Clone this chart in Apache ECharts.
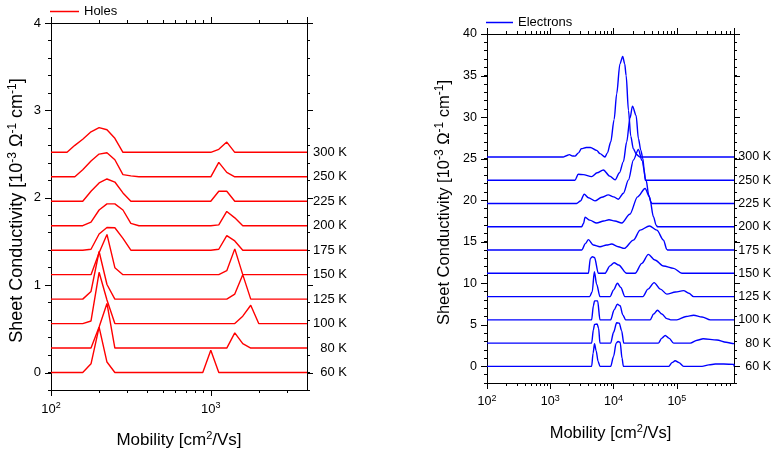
<!DOCTYPE html>
<html>
<head>
<meta charset="utf-8">
<script src="https://cdn.jsdelivr.net/npm/echarts@6/dist/echarts.min.js"></script>
<style>
  html, body { margin: 0; padding: 0; background: #fff; }
  #chart { width: 776px; height: 455px; }
</style>
</head>
<body>
<div id="chart"></div>
<script>
// ---------- data ----------
const temperatures = ['60 K', '80 K', '100 K', '125 K', '150 K', '175 K', '200 K', '225 K', '250 K', '300 K'];

// Holes: mobility spectra on a shared mobility grid (cm²/Vs), values in 10^-3 S
const holeMobility = [126, 141, 158, 178, 200, 224, 251, 282, 316, 355, 891, 1000, 1122, 1259, 1413, 1585, 1778, 1995];
const holeOffsets = [0, 0.28, 0.56, 0.84, 1.12, 1.40, 1.68, 1.96, 2.24, 2.52];
const holes60  = [0, 0, 0, 0.10, 0.52, 0.12, 0, 0, 0, 0,        0, 0.254, 0, 0, 0, 0, 0, 0];
const holes80  = [0, 0, 0, 0, 0.24, 0.51, 0, 0, 0, 0,           0, 0, 0, 0, 0.174, 0.05, 0, 0];
const holes100 = [0, 0, 0, 0.03, 0.587, 0.27, 0, 0, 0, 0,       0, 0, 0, 0, 0, 0.085, 0.21, 0];
const holes125 = [0, 0, 0, 0.088, 0.545, 0.167, 0, 0, 0, 0,     0, 0, 0, 0, 0.058, 0.28, 0, 0];
const holes150 = [0, 0, 0, 0, 0.25, 0.46, 0.08, 0, 0, 0,        0, 0, 0, 0.045, 0.295, 0, 0, 0];
const holes175 = [0, 0, 0, 0.011, 0.185, 0.26, 0.257, 0.136, 0, 0, 0, 0, 0.011, 0.167, 0.106, 0, 0, 0];
const holes200 = [0, 0, 0, 0.042, 0.18, 0.25, 0.25, 0.18, 0.027, 0, 0, 0, 0.01, 0.163, 0.09, 0, 0, 0];
const holes225 = [0, 0, 0, 0.115, 0.21, 0.255, 0.22, 0.095, 0, 0,   0, 0, 0.114, 0.114, 0, 0, 0, 0];
const holes250 = [0, 0, 0.08, 0.18, 0.26, 0.275, 0.195, 0.025, 0.01, 0, 0, 0, 0.165, 0.05, 0, 0, 0, 0];
const holes300 = [0, 0.08, 0.15, 0.235, 0.282, 0.258, 0.16, 0, 0, 0,   0, 0, 0.034, 0.117, 0, 0, 0, 0];
const holeCurves = [holes60, holes80, holes100, holes125, holes150, holes175, holes200, holes225, holes250, holes300];

// Electrons: [mobility (cm²/Vs), conductivity (10^-3 S)] per temperature
const elecOffsets = [0, 2.8, 5.6, 8.4, 11.2, 14.0, 16.8, 19.6, 22.4, 25.2];
const elec60 = [[4500, 0], [4750, 1.6], [5000, 2.72], [5300, 1.9], [5700, 0.6], [6100, 0],
  [9000, 0], [10000, 1.2], [11000, 2.8], [11800, 3.0], [12700, 2.9], [13600, 1.0], [14300, 0],
  [74000, 0], [84000, 0.45], [94000, 0.68], [108000, 0.45], [128000, 0],
  [250000, 0], [320000, 0.18], [405000, 0.28], [550000, 0.28], [800000, 0.24]];
const elec80 = [[4500, 0], [4800, 1.6], [5000, 2.25], [5500, 2.3], [5800, 1.8], [6100, 0],
  [9000, 0], [10000, 1.3], [11200, 2.45], [12300, 2.4], [13400, 1.5], [14500, 0],
  [51000, 0], [58000, 0.6], [65500, 0.92], [75000, 0.6], [89000, 0],
  [163000, 0], [210000, 0.35], [260000, 0.52], [430000, 0.38], [600000, 0.1], [800000, -0.06]];
const elec100 = [[4500, 0], [4800, 1.7], [5000, 2.28], [5600, 2.28], [6100, 0],
  [9000, 0], [10200, 1.2], [11500, 1.88], [12700, 1.7], [14000, 0.6], [15500, 0],
  [37800, 0], [43000, 0.7], [49400, 1.16], [58000, 0.7], [69500, 0.15], [80000, 0],
  [100000, 0], [140000, 0.4], [184000, 0.56], [250000, 0.35], [338000, 0]];
const elec125 = [[4200, 0], [4600, 0.6], [4970, 3.0], [5400, 1.5], [6100, 0],
  [8800, 0], [10000, 0.8], [11500, 1.6], [13000, 1.1], [15100, 0],
  [29000, 0], [35000, 0.9], [43700, 1.68], [55000, 0.9], [69500, 0.3], [95000, 0.55],
  [127600, 0.72], [155000, 0.4], [184000, 0]];
const elec150 = [[4000, 0], [4300, 1.8], [4650, 2.0], [5000, 1.9], [5750, 0],
  [7300, 0], [8800, 0.9], [10200, 1.28], [12000, 1.0], [16100, 0],
  [21900, 0], [28000, 1.2], [35500, 2.28], [45000, 1.6], [61500, 0.88], [88700, 0.6], [120000, 0]];
const elec175 = [[3130, 0], [3610, 0.8], [4000, 1.25], [4790, 0.6], [6100, 0.4], [7780, 0.6],
  [9300, 0.72], [11900, 0.4], [14700, 0.2], [20600, 1.2], [26300, 2.4], [36900, 2.9],
  [48300, 2.4], [61500, 1.2], [69500, 0.08], [72000, 0]];
const elec200 = [[3130, 0], [3350, 0.4], [3550, 1.15], [4200, 0.8], [5400, 0.45], [7000, 0.7],
  [8470, 0.84], [10500, 0.7], [13500, 0.45], [18000, 1.5], [24000, 3.6], [31500, 4.6],
  [37000, 3.6], [42700, 1.2], [47000, 0.2], [49400, 0]];
const elec225 = [[2600, 0], [3000, 0.3], [3440, 1.12], [4000, 0.7], [5080, 0.32], [6500, 0.75],
  [8260, 1.04], [10000, 0.8], [11900, 0.52], [14300, 1.24], [17200, 2.84], [20600, 5.24],
  [24700, 6.52], [28000, 5.2], [32700, 2.8], [36000, 1.0], [38800, 0.2], [40300, 0]];
const elec250 = [[2450, 0], [2770, 0.72], [3320, 0.68], [4500, 0.44], [5500, 0.9], [6900, 1.24],
  [8700, 0.5], [10600, 0.04], [12400, 0.9], [14300, 2.24], [16100, 4.6], [18200, 7.5],
  [19900, 8.92], [22700, 7.8], [24700, 5.0], [27000, 3.6], [29000, 2.6], [30500, 1.2], [31600, 0]];
const elec300 = [[1600, 0], [1800, 0.15], [2000, 0.28], [2250, 0.12], [2450, 0.1], [2800, 0.5],
  [3100, 1.0], [3700, 1.15], [4300, 1.15], [5400, 0.8], [6100, 0.4], [7300, 0], [8000, 0.5],
  [9010, 1.8], [10200, 4.5], [11200, 7.6], [12600, 11.2], [13950, 12.1], [15000, 11.2],
  [15800, 9.8], [17200, 5.6], [18700, 2.5], [20500, 1.0], [23000, 0.3], [26000, 0]];
const elecCurves = [elec60, elec80, elec100, elec125, elec150, elec175, elec200, elec225, elec250, elec300];

// axis ranges and ticks
const holeXRange = [100, 4000];
const holeYRange = [-0.2, 4];
const holeYStep = 0.2;
const holeYMajor = [0, 1, 2, 3, 4];
const holeXMinor = [200, 300, 400, 500, 600, 700, 800, 900, 2000, 3000];

const elecXRange = [100, 800000];
const elecYRange = [-2, 40];
const elecYStep = 1;
const elecYMajor = [0, 5, 10, 15, 20, 25, 30, 35, 40];
const elecXMinor = [];
[100, 1000, 10000, 100000].forEach(function (d) {
  for (let m = 2; m <= 9; m++) { if (m * d < elecXRange[1]) elecXMinor.push(m * d); }
});

// ---------- styling ----------
const FONT = '"Liberation Sans", Arial, sans-serif';
const yTitle = 'Sheet Conductivity [10{s|-3} \u03A9{s|-1} cm{s|-1}]';
const xTitle = 'Mobility [cm{s|2}/Vs]';

// per-panel text sizes; titlePad nudges the rotated y title along the axis
const holeFonts = { tick: 13, sup: 9, xTitle: 17, yTitle: 18, nameSup: 12, titlePad: [0, 8, 0, 0] };
const elecFonts = { tick: 12.5, sup: 9, xTitle: 16.5, yTitle: 16.5, nameSup: 12, titlePad: [0, 0, 0, 12] };

function supRich(f) {
  return {
    b: { fontSize: f.tick, fontFamily: FONT, color: '#000', lineHeight: 16 },
    s: { fontSize: f.sup, fontFamily: FONT, color: '#000', lineHeight: 10, verticalAlign: 'top' }
  };
}
function nameRich(size) {
  return { s: { fontSize: size, fontFamily: FONT, color: '#000', lineHeight: 12, verticalAlign: 'top' } };
}

function decadeLabel(v) {
  const e = Math.log10(v);
  if (Math.abs(e - Math.round(e)) > 1e-6) return '';
  return '{b|10}{s|' + Math.round(e) + '}';
}

function xAxes(grid, range, f) {
  const common = {
    type: 'log', logBase: 10, gridIndex: grid, min: range[0], max: range[1],
    axisLine: { show: true, onZero: false, lineStyle: { color: '#000', width: 1 } },
    axisTick: { show: true, inside: false, length: 6, lineStyle: { color: '#000', width: 1 } },
    splitLine: { show: false }, minorTick: { show: false }
  };
  return [
    Object.assign({}, common, {
      position: 'bottom',
      axisLabel: { show: true, margin: 11, formatter: decadeLabel, rich: supRich(f), showMaxLabel: false },
      name: xTitle, nameLocation: 'middle', nameGap: 40,
      nameTextStyle: { fontSize: f.xTitle, fontFamily: FONT, color: '#000', lineHeight: 20, rich: nameRich(11) }
    }),
    Object.assign({}, common, { position: 'top', axisLabel: { show: false } })
  ];
}

function yAxes(grid, range, step, majors, gap, f) {
  const common = {
    type: 'value', gridIndex: grid, min: range[0], max: range[1], interval: step,
    axisLine: { show: true, onZero: false, lineStyle: { color: '#000', width: 1 } },
    axisTick: { show: true, inside: false, length: 3, lineStyle: { color: '#000', width: 1 } },
    splitLine: { show: false }
  };
  return [
    Object.assign({}, common, {
      position: 'left',
      axisLabel: {
        show: true, margin: 10, fontSize: f.tick, fontFamily: FONT, color: '#000',
        formatter: function (v) {
          const r = Math.round(v);
          return (Math.abs(v - r) < 1e-6 && majors.indexOf(r) >= 0) ? String(r) : '';
        }
      },
      name: yTitle, nameLocation: 'middle', nameGap: gap,
      nameTextStyle: {
        fontSize: f.yTitle, fontFamily: FONT, color: '#000', lineHeight: 20,
        padding: f.titlePad, rich: nameRich(f.nameSup)
      }
    }),
    Object.assign({}, common, { position: 'right', axisLabel: { show: false } })
  ];
}

// long ticks on the value axes and minor decade ticks on the log axes
function tickSeries(axisIdx, xRange, yRange, xMinor, yMajor) {
  return {
    type: 'custom', name: 'ticks', xAxisIndex: axisIdx.x, yAxisIndex: axisIdx.y,
    silent: true, clip: false, z: 4, animation: false,
    data: [[xRange[0], yRange[0]]],
    encode: { x: 0, y: 1 },
    renderItem: function (params, api) {
      const cs = params.coordSys;
      const left = cs.x, right = cs.x + cs.width, top = cs.y, bottom = cs.y + cs.height;
      const st = { stroke: '#000', lineWidth: 1 };
      const kids = [];
      xMinor.forEach(function (v) {
        const p = Math.round(api.coord([v, yRange[0]])[0]) + 0.5;
        kids.push({ type: 'line', shape: { x1: p, y1: bottom, x2: p, y2: bottom + 3 }, style: st });
        kids.push({ type: 'line', shape: { x1: p, y1: top, x2: p, y2: top - 3 }, style: st });
      });
      yMajor.forEach(function (v) {
        const p = Math.round(api.coord([xRange[0], v])[1]) + 0.5;
        kids.push({ type: 'line', shape: { x1: left - 6, y1: p, x2: left, y2: p }, style: st });
        kids.push({ type: 'line', shape: { x1: right, y1: p, x2: right + 6, y2: p }, style: st });
      });
      return { type: 'group', children: kids };
    }
  };
}

function curveSeries(name, color, axisIdx, xRange, points, offset, label, smooth, labelDist, fontSize) {
  const data = [[xRange[0], offset]];
  points.forEach(function (p) { data.push([p[0], +(offset + p[1]).toFixed(4)]); });
  data.push([xRange[1], offset]);
  return {
    type: 'line', name: name, xAxisIndex: axisIdx.x, yAxisIndex: axisIdx.y,
    data: data, symbol: 'none', smooth: smooth, smoothMonotone: smooth ? 'x' : undefined,
    lineStyle: { color: color, width: 1.4 }, itemStyle: { color: color },
    clip: false, animation: false,
    endLabel: {
      show: true, formatter: label, align: 'right', distance: labelDist,
      fontSize: fontSize, fontFamily: FONT, color: '#000'
    }
  };
}

// ---------- chart ----------
const series = [];
const holeAx = { x: 0, y: 0 };
const elecAx = { x: 2, y: 2 };
holeCurves.forEach(function (vals, i) {
  const pts = holeMobility.map(function (m, j) { return [m, vals[j]]; });
  series.push(curveSeries('Holes', '#ff0000', holeAx, holeXRange, pts, holeOffsets[i], temperatures[i], false, 40, holeFonts.tick));
});
elecCurves.forEach(function (pts, i) {
  series.push(curveSeries('Electrons', '#0000ff', elecAx, elecXRange, pts, elecOffsets[i], temperatures[i], 0.3, 37, elecFonts.tick));
});
series.push(tickSeries(holeAx, holeXRange, holeYRange, holeXMinor, holeYMajor));
series.push(tickSeries(elecAx, elecXRange, elecYRange, elecXMinor, elecYMajor));

const legendText = { fontSize: 13, fontFamily: FONT, color: '#000' };
const chart = echarts.init(document.getElementById('chart'), null, { renderer: 'canvas' });
chart.setOption({
  animation: false,
  backgroundColor: '#fff',
  textStyle: { fontFamily: FONT },
  grid: [
    { left: 51, top: 23, width: 256, height: 370 },
    { left: 487, top: 34, width: 247, height: 349 }
  ],
  legend: [
    { data: [{ name: 'Holes', icon: 'rect' }], left: 50, top: 5, padding: 0, itemWidth: 29, itemHeight: 1.5,
      selectedMode: false, textStyle: legendText },
    { data: [{ name: 'Electrons', icon: 'rect' }], left: 486, top: 16, padding: 0, itemWidth: 27, itemHeight: 1.5,
      selectedMode: false, textStyle: legendText }
  ],
  xAxis: xAxes(0, holeXRange, holeFonts).concat(xAxes(1, elecXRange, elecFonts)),
  yAxis: yAxes(0, holeYRange, holeYStep, holeYMajor, 24, holeFonts)
    .concat(yAxes(1, elecYRange, elecYStep, elecYMajor, 33, elecFonts)),
  series: series
});
</script>
</body>
</html>
